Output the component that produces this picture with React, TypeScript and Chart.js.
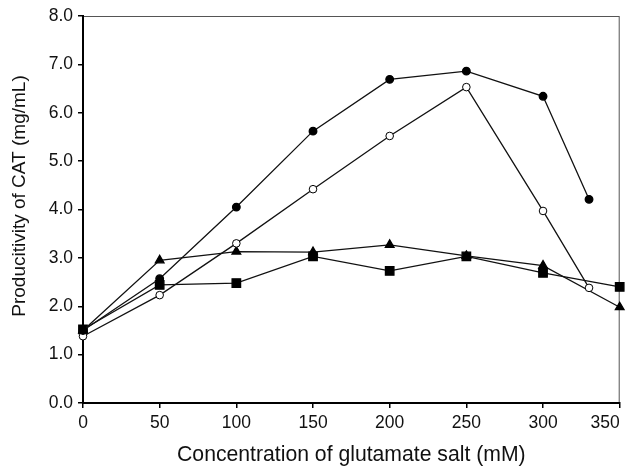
import React, { useEffect, useRef } from "react";
import { Chart, registerables } from "chart.js";

Chart.register(...registerables);

const concA = [0, 50, 100, 150, 200, 250, 300, 330];
const concB = [0, 50, 100, 150, 200, 250, 300, 350];
const filledCircle = [1.5, 2.57, 4.05, 5.62, 6.69, 6.86, 6.34, 4.21];
const openCircle = [1.38, 2.23, 3.3, 4.42, 5.52, 6.53, 3.97, 2.38];
const triangle = [1.5, 2.95, 3.13, 3.12, 3.27, 3.04, 2.84, 1.98];
const square = [1.52, 2.44, 2.48, 3.03, 2.73, 3.03, 2.69, 2.4];
const xTicks = [0, 50, 100, 150, 200, 250, 300, 350];
const yTicks = [0, 1, 2, 3, 4, 5, 6, 7, 8];
const xTitle = "Concentration of glutamate salt (mM)";
const yTitle = "Producitivity of CAT (mg/mL)";

const FONT = "'Liberation Sans', Arial, sans-serif";

const pts = (xs: number[], ys: number[]) => xs.map((x, i) => ({ x, y: ys[i] }));

export default function App() {
  const ref = useRef<HTMLCanvasElement | null>(null);
  useEffect(() => {
    if (!ref.current) return;
    const frame = {
      id: "frame",
      beforeDraw(chart: any) {
        const { ctx, chartArea: a } = chart;
        const xs = chart.scales.x;
        const items = xs.getLabelItems();
        if (items.length) {
          const last = items[items.length - 1];
          last.options = { ...last.options, textAlign: "right" };
        }
        ctx.save();
        ctx.strokeStyle = "#555";
        ctx.lineWidth = 1;
        ctx.strokeRect(a.left + 0.5, a.top + 0.5, a.right - a.left - 1, a.bottom - a.top);
        ctx.restore();
      },
      afterDraw(chart: any) {
        const { ctx, chartArea: a } = chart;
        ctx.save();
        ctx.fillStyle = "#111";
        ctx.textAlign = "center";
        ctx.textBaseline = "middle";
        ctx.font = `21.2px ${FONT}`;
        ctx.fillText(xTitle, (a.left + a.right) / 2, 455);
        ctx.translate(20, 196);
        ctx.rotate(-Math.PI / 2);
        ctx.font = `19px ${FONT}`;
        ctx.fillText(yTitle, 0, 0);
        ctx.restore();
      },
    };
    const common = { borderColor: "#111", borderWidth: 1.3, tension: 0, clip: false as any };
    const chart = new Chart(ref.current, {
      type: "line",
      data: {
        datasets: [
          { ...common, data: pts(concA, filledCircle), pointStyle: "circle", pointRadius: 3.8, backgroundColor: "#000", pointBackgroundColor: "#000", pointBorderColor: "#000" },
          { ...common, data: pts(concA, openCircle), pointStyle: "circle", pointRadius: 3.8, pointBackgroundColor: "#fff", pointBorderColor: "#000", pointBorderWidth: 1 },
          { ...common, data: pts(concB, triangle), pointStyle: "triangle", pointRadius: 5, pointBackgroundColor: "#000", pointBorderColor: "#000" },
          { ...common, data: pts(concB, square), pointStyle: "rect", pointRadius: 6, pointBackgroundColor: "#000", pointBorderColor: "#000" },
        ] as any,
      },
      options: {
        animation: false,
        responsive: false,
        maintainAspectRatio: false,
        layout: { padding: { top: 16, right: 6, left: 0, bottom: 0 } },
        plugins: { legend: { display: false }, tooltip: { enabled: false } },
        scales: {
          x: {
            type: "linear",
            min: 0,
            max: 350,
            afterBuildTicks: (s: any) => { s.ticks = xTicks.map((v) => ({ value: v })); },
            afterFit: (s: any) => { s.height = 64; s.paddingLeft = 0; s.paddingRight = 0; },
            grid: { drawOnChartArea: false, drawTicks: true, tickLength: 5, color: "#000", lineWidth: 1.5 },
            border: { display: true, color: "#000", width: 2 },
            ticks: { color: "#111", padding: 5, font: { family: FONT, size: 17.5 }, maxRotation: 0, autoSkip: false },
          },
          y: {
            type: "linear",
            min: 0,
            max: 8,
            afterBuildTicks: (s: any) => { s.ticks = yTicks.map((v) => ({ value: v })); },
            afterFit: (s: any) => { s.width = 83; },
            grid: { drawOnChartArea: false, drawTicks: true, tickLength: 5, color: "#000", lineWidth: 1.5 },
            border: { display: true, color: "#000", width: 2 },
            ticks: { color: "#111", padding: 5, font: { family: FONT, size: 17.5 }, callback: (v: any) => Number(v).toFixed(1) },
          },
        },
      } as any,
      plugins: [frame],
    });
    return () => chart.destroy();
  }, []);
  return (
    <div style={{ position: "fixed", left: 0, top: 0, width: 627, height: 467, background: "#fff" }}>
      <canvas ref={ref} width={627} height={467} style={{ width: 627, height: 467, display: "block" }} />
    </div>
  );
}
